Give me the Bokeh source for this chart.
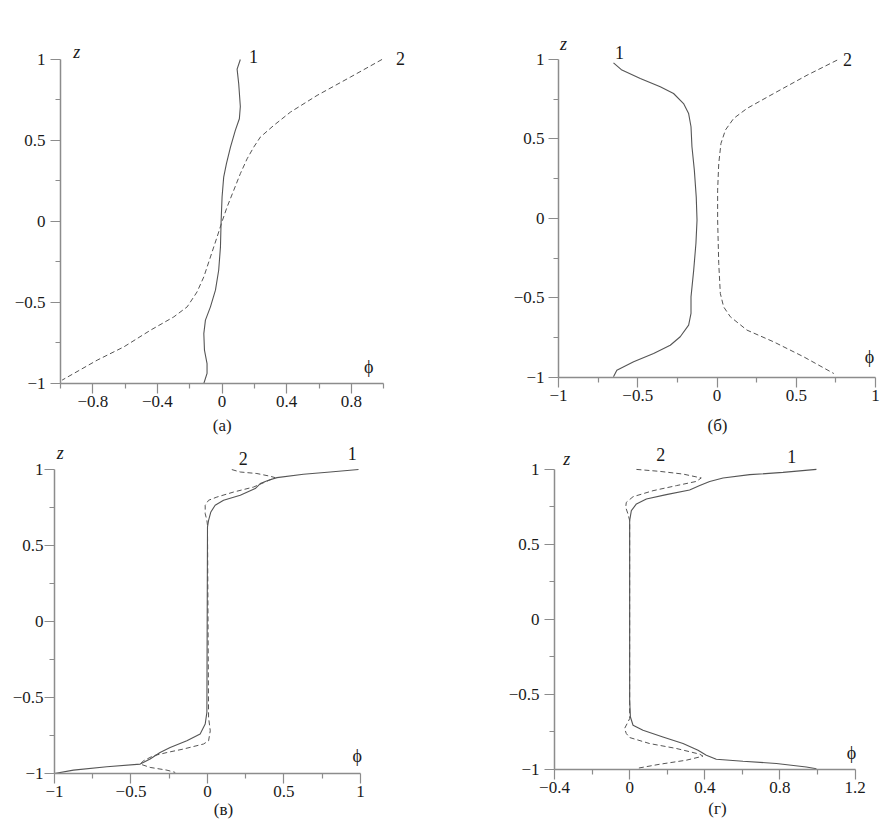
from bokeh.plotting import figure
from bokeh.models import Range1d, FixedTicker, CustomJSTickFormatter
from bokeh.layouts import column, row
from bokeh.embed import file_html
from bokeh.resources import INLINE
from bokeh.core.properties import value

# ---------------- data (phi, z) ----------------
# panel (а)
a_z1 = [1.0, 0.94, 0.85, 0.71, 0.634, 0.562, 0.459, 0.357, 0.274, 0.151, 0.0, -0.157, -0.301, -0.424,
        -0.527, -0.609, -0.692, -0.794, -0.877, -0.938, -1.0]
a_phi1 = [0.113, 0.093, 0.103, 0.113, 0.107, 0.082, 0.052, 0.027, 0.010, 0.0, -0.006, -0.010, -0.021, -0.041,
          -0.072, -0.103, -0.113, -0.109, -0.093, -0.093, -0.113]
a_z2 = [1.0, 0.891, 0.778, 0.675, 0.593, 0.521, 0.459, 0.387, 0.295, 0.192, 0.089, 0.0, -0.096, -0.219,
        -0.342, -0.435, -0.527, -0.589, -0.671, -0.774, -0.856, -0.979]
a_phi2 = [0.990, 0.794, 0.588, 0.423, 0.320, 0.237, 0.196, 0.155, 0.113, 0.072, 0.031, 0.0, -0.031, -0.072,
          -0.113, -0.155, -0.216, -0.299, -0.443, -0.608, -0.773, -0.990]

# panel (б)
b_z1 = [0.979, 0.933, 0.881, 0.828, 0.786, 0.723, 0.660, 0.577, 0.451, 0.304, 0.136, -0.010, -0.157, -0.325,
        -0.493, -0.597, -0.671, -0.744, -0.797, -0.849, -0.901, -0.954, -0.996]
b_phi1 = [-0.653, -0.600, -0.484, -0.358, -0.274, -0.211, -0.179, -0.164, -0.158, -0.143, -0.131, -0.126,
          -0.133, -0.147, -0.164, -0.164, -0.179, -0.232, -0.295, -0.400, -0.526, -0.632, -0.653]
b_z2 = [0.996, 0.901, 0.786, 0.692, 0.629, 0.556, 0.472, 0.346, 0.178, -0.010, -0.283, -0.472, -0.556,
        -0.618, -0.702, -0.776, -0.870, -0.975]
b_phi2 = [0.758, 0.568, 0.358, 0.189, 0.105, 0.053, 0.025, 0.011, 0.004, 0.004, 0.011, 0.021, 0.042,
          0.084, 0.189, 0.358, 0.547, 0.737]

# panel (в)
c_z1 = [1.0, 0.984, 0.969, 0.947, 0.930, 0.908, 0.875, 0.831, 0.798, 0.765, 0.721, 0.666, 0.622,
        -0.598, -0.674, -0.740, -0.785, -0.829, -0.862, -0.905, -0.938, -0.956, -0.978, -1.0]
c_phi1 = [0.987, 0.802, 0.627, 0.454, 0.399, 0.345, 0.312, 0.214, 0.105, 0.050, 0.022, 0.007, 0.0,
          -0.004, -0.015, -0.048, -0.135, -0.244, -0.310, -0.375, -0.440, -0.658, -0.876, -1.0]
c_z2 = [1.0, 0.984, 0.974, 0.956, 0.947, 0.918, 0.885, 0.852, 0.819, 0.798, 0.765, 0.710, 0.666, 0.633,
        -0.631, -0.719, -0.785, -0.806, -0.839, -0.862, -0.883, -0.916, -0.938, -0.960, -0.978, -0.993]
c_phi2 = [0.159, 0.214, 0.323, 0.410, 0.442, 0.377, 0.301, 0.170, 0.061, 0.007, -0.015, -0.015, -0.004, 0.0,
          0.007, 0.018, 0.007, -0.026, -0.157, -0.265, -0.353, -0.418, -0.440, -0.375, -0.265, -0.211]

# panel (г)
d_z1 = [1.0, 0.980, 0.965, 0.943, 0.920, 0.892, 0.863, 0.832, 0.803, 0.770, 0.725, 0.659, 0.592,
        -0.539, -0.650, -0.705, -0.739, -0.783, -0.827, -0.872, -0.905, -0.932, -0.945, -0.960, -0.983, -0.995]
d_phi1 = [0.994, 0.816, 0.639, 0.497, 0.426, 0.373, 0.319, 0.195, 0.089, 0.036, 0.009, 0.0, 0.0,
          0.0, 0.004, 0.018, 0.071, 0.177, 0.284, 0.364, 0.408, 0.461, 0.603, 0.781, 0.940, 0.994]
d_z2 = [1.0, 0.987, 0.969, 0.943, 0.920, 0.892, 0.858, 0.818, 0.780, 0.747, 0.703, 0.659,
        -0.661, -0.727, -0.760, -0.787, -0.827, -0.860, -0.898, -0.911, -0.938, -0.965, -0.993]
d_phi2 = [0.036, 0.160, 0.284, 0.381, 0.355, 0.249, 0.124, 0.018, -0.018, -0.021, -0.009, 0.0,
          0.0, -0.027, -0.018, 0.0, 0.106, 0.249, 0.373, 0.390, 0.302, 0.160, 0.036]

# ticks
a_xticks = [-0.8, -0.4, 0, 0.4, 0.8]
a_xminor = [-1.0, -0.6, -0.2, 0.2, 0.6, 1.0]
std_ticks = [-1, -0.5, 0, 0.5, 1]
std_minor = [-0.75, -0.25, 0.25, 0.75]
d_xticks = [-0.4, 0, 0.4, 0.8, 1.2]
d_xminor = [-0.2, 0.2, 0.6, 1.0]

captions = ["(а)", "(б)", "(в)", "(г)"]

SERIF = "Liberation Serif"
AXC = "#8c8c8c"
LC = "#555555"
TXT = "#1a1a1a"
NBSP = "\u00a0"

fmt_code = """
const v = Math.round(tick * 100) / 100;
if (Math.abs(v) < 1e-9) { return "0"; }
return String(v).replace("-", "\u2212");
"""


def make_panel(xr, yr, xb, fw, fh, bl, br, bt, bb, xt, xm, yt, ym, ystand, cap, capstand,
               curves, labels):
    p = figure(frame_width=fw, frame_height=fh, x_range=Range1d(*xr), y_range=Range1d(*yr),
               min_border_left=bl, min_border_right=br, min_border_top=bt, min_border_bottom=bb,
               output_backend="svg", toolbar_location=None, background_fill_color="white",
               border_fill_color="white")
    p.title.visible = False
    p.outline_line_color = None
    p.xgrid.visible = False
    p.ygrid.visible = False
    p.xaxis.ticker = FixedTicker(ticks=xt, minor_ticks=xm)
    p.yaxis.ticker = FixedTicker(ticks=yt, minor_ticks=ym)
    p.xaxis.bounds = xb
    p.yaxis.bounds = (-1, 1)
    for ax in (p.xaxis[0], p.yaxis[0]):
        ax.formatter = CustomJSTickFormatter(code=fmt_code)
        ax.axis_line_color = AXC
        ax.axis_line_width = 1.5
        ax.major_tick_line_color = AXC
        ax.major_tick_line_width = 1.2
        ax.major_tick_out = 10
        ax.major_tick_in = 0
        ax.minor_tick_line_color = AXC
        ax.minor_tick_line_width = 1.2
        ax.minor_tick_out = 5
        ax.minor_tick_in = 0
        ax.major_label_text_font = SERIF
        ax.major_label_text_font_size = "17px"
        ax.major_label_text_color = TXT
    p.xaxis.major_label_standoff = 2
    p.yaxis.major_label_standoff = ystand
    p.xaxis.axis_label = cap
    p.xaxis.axis_label_standoff = capstand
    p.xaxis.axis_label_text_font = SERIF
    p.xaxis.axis_label_text_font_size = "17px"
    p.xaxis.axis_label_text_font_style = "normal"
    p.xaxis.axis_label_text_color = TXT

    (x1, y1), (x2, y2) = curves
    p.line(x1, y1, line_color=LC, line_width=1.1)
    p.line(x2, y2, line_color=LC, line_width=1.0, line_dash="5 3")

    for (tx, ty, txt, style, size) in labels:
        p.text(x=[tx], y=[ty], text=[txt], text_font=value(SERIF), text_font_size=size,
               text_font_style=style, text_color=TXT, text_align="center",
               text_baseline="middle")
    return p


# row 1: frames share the same top border (Bokeh aligns them)
pa = make_panel((-1, 1.16), (-1, 1.154), (-1, 1), 349, 349, 60, 5, 34, 54,
                a_xticks, a_xminor, std_ticks, std_minor, 5, captions[0] + NBSP * 6, 6,
                [(a_phi1, a_z1), (a_phi2, a_z2)],
                [(0.195, 1.02, "1", "normal", "18px"), (1.105, 1.006, "2", "normal", "18px"),
                 (-0.90, 1.045, "z", "italic", "18px"), (0.907, -0.90, "ϕ", "normal", "18px")])

pb = make_panel((-1, 1.0063), (-1, 1.157), (-1, 1), 318, 343, 144, 5, 34, 60,
                std_ticks, std_minor, std_ticks, std_minor, 4, captions[1], 12,
                [(b_phi1, b_z1), (b_phi2, b_z2)],
                [(-0.615, 1.044, "1", "normal", "18px"), (0.823, 1.0, "2", "normal", "18px"),
                 (-0.968, 1.10, "z", "italic", "18px"), (0.962, -0.874, "ϕ", "normal", "18px")])

# row 2
pc = make_panel((-1, 1.2092), (-1, 1.165), (-1, 1), 338, 329, 54, 5, 7, 48,
                std_ticks, std_minor, std_ticks, std_minor, 1, captions[2], 0,
                [(c_phi1, c_z1), (c_phi2, c_z2)],
                [(0.946, 1.107, "1", "normal", "18px"), (0.233, 1.074, "2", "normal", "18px"),
                 (-0.963, 1.108, "z", "italic", "18px"), (0.978, -0.882, "ϕ", "normal", "18px")])

pd_ = make_panel((-0.4, 1.335), (-1, 1.166), (-0.4, 1.2), 326, 325, 157, 5, 7, 52,
                 d_xticks, d_xminor, std_ticks, std_minor, 5, captions[3], 3,
                 [(d_phi1, d_z1), (d_phi2, d_z2)],
                 [(0.862, 1.085, "1", "normal", "18px"), (0.165, 1.098, "2", "normal", "18px"),
                  (-0.335, 1.071, "z", "italic", "18px"), (1.181, -0.89, "ϕ", "normal", "18px")])

layout = column(row(pa, pb), row(pc, pd_))
open("out.html", "w").write(file_html(layout, INLINE))
